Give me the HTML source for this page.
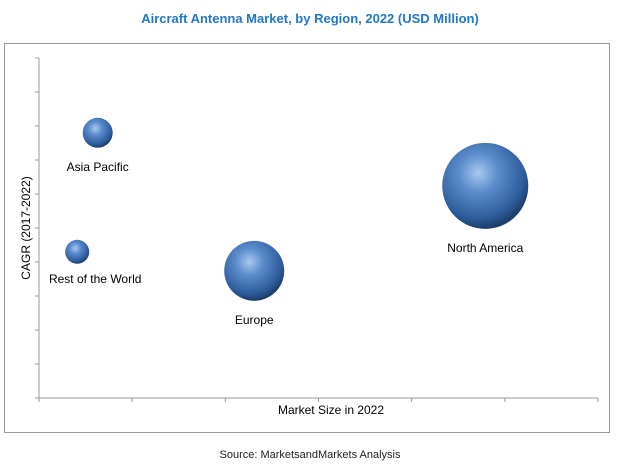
<!DOCTYPE html>
<html><head><meta charset="utf-8"><style>
body{margin:0;background:#fff;width:617px;height:468px;overflow:hidden;font-family:"Liberation Sans",sans-serif}
svg{display:block}
</style></head><body>
<svg width="617" height="468">
<defs>
<radialGradient id="g" cx="0.42" cy="0.35" r="0.65">
<stop offset="0" stop-color="#a9c9ef"/><stop offset="0.35" stop-color="#5b8ccc"/><stop offset="0.8" stop-color="#2f5e9e"/><stop offset="1" stop-color="#1d3d6b"/>
</radialGradient>
</defs>
<text x="310" y="23" text-anchor="middle" font-size="13" font-weight="bold" fill="#1f78c8">Aircraft Antenna Market, by Region, 2022 (USD Million)</text>
<rect x="4.5" y="43.5" width="605" height="389" fill="none" stroke="#999"/>
<g id="axes"></g>
<g id="marks"></g>
<text x="331" y="414" text-anchor="middle" font-size="12" fill="#000">Market Size in 2022</text>
<text transform="translate(30,228) rotate(-90)" text-anchor="middle" font-size="12" fill="#000">CAGR (2017-2022)</text>
<text x="310" y="458" text-anchor="middle" font-size="11" fill="#222">Source: MarketsandMarkets Analysis</text>
</svg>
<script>
const regions=["Asia Pacific","Rest of the World","Europe","North America"];
const marketSize=[0.63,0.41,2.31,4.79];
const cagr=[7.8,4.3,3.74,6.24];
const bubbleValue=[225,144,900,1849];
const xTicks=[0,1,2,3,4,5,6];
const yTicks=[0,1,2,3,4,5,6,7,8,9,10];
const NS="http://www.w3.org/2000/svg";
const X0=39,X1=598,Y0=398,Y1=58;
const sx=v=>X0+(X1-X0)*v/6, sy=v=>Y0-(Y0-Y1)*v/10;
const rs=v=>Math.sqrt(v);
function mk(t,a,p){const e=document.createElementNS(NS,t);for(const k in a)e.setAttribute(k,a[k]);p.appendChild(e);return e;}
const ax=document.getElementById('axes'),mg=document.getElementById('marks');
let l=mk('line',{x1:X0,y1:Y0,x2:X1,y2:Y0,stroke:'#999'},ax);


l=mk('line',{x1:X0,y1:Y0,x2:X0,y2:Y1,stroke:'#999'},ax);


xTicks.forEach(t=>{const e=mk('line',{x1:sx(t),x2:sx(t),y1:Y0,y2:Y0+4,stroke:'#999'},ax);

});
yTicks.forEach(t=>{const e=mk('line',{x1:X0-4,x2:X0,y1:sy(t),y2:sy(t),stroke:'#999'},ax);

});
regions.forEach((r,i)=>{
const cx=sx(marketSize[i]),cy=sy(cagr[i]),rad=rs(bubbleValue[i]);
const c=mk('circle',{cx:cx,cy:cy,r:rad,fill:'url(#g)'},mg);


const lx=i==1?cx+18:cx;
const t=mk('text',{x:lx,y:cy+rad+(i==1?19:23),'text-anchor':'middle','font-size':'12',fill:'#000'},mg);
t.textContent=r;


});
</script>
</body></html>
